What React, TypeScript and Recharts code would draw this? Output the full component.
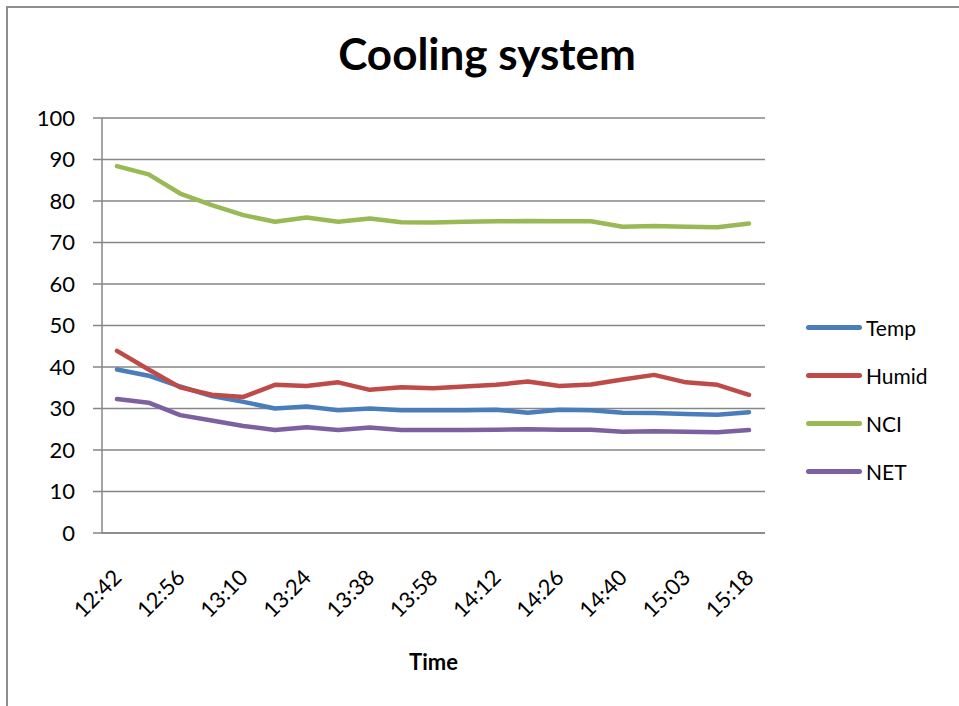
import React from "react";
import { LineChart, Line, XAxis, YAxis, CartesianGrid, Legend } from "recharts";

const times = [
  "12:42", "12:49", "12:56", "13:03", "13:10", "13:17", "13:24", "13:31", "13:38", "13:48",
  "13:58", "14:05", "14:12", "14:19", "14:26", "14:33", "14:40", "14:51", "15:03", "15:10", "15:18",
];

const temp = [
  39.4, 37.9, 35.3, 33.0, 31.6, 30.0, 30.5, 29.6, 30.0, 29.6,
  29.6, 29.6, 29.7, 29.0, 29.7, 29.6, 29.0, 28.9, 28.7, 28.5, 29.1,
];
const humid = [
  43.9, 39.4, 35.1, 33.3, 32.8, 35.7, 35.4, 36.3, 34.5, 35.1,
  34.9, 35.3, 35.7, 36.5, 35.4, 35.8, 37.0, 38.1, 36.3, 35.7, 33.3,
];
const nci = [
  88.4, 86.4, 81.8, 79.0, 76.6, 75.0, 76.0, 75.0, 75.8, 74.9,
  74.8, 75.0, 75.1, 75.2, 75.1, 75.1, 73.8, 74.0, 73.8, 73.7, 74.6,
];
const net = [
  32.3, 31.4, 28.4, 27.1, 25.8, 24.8, 25.5, 24.8, 25.4, 24.8,
  24.8, 24.8, 24.9, 25.0, 24.9, 24.9, 24.4, 24.5, 24.4, 24.3, 24.8,
];

const yTicks = [0, 10, 20, 30, 40, 50, 60, 70, 80, 90, 100];

const series = [
  { key: "Temp", color: "#4a7ebb" },
  { key: "Humid", color: "#be4b48" },
  { key: "NCI", color: "#98b954" },
  { key: "NET", color: "#7d60a0" },
];

const data = times.map((t, i) => ({
  time: t,
  Temp: temp[i],
  Humid: humid[i],
  NCI: nci[i],
  NET: net[i],
}));

const FONT = "Lato, 'Liberation Sans', sans-serif";

const XTick = (props: any) => {
  const { x, y, payload } = props;
  const tx = x + 6;
  const ty = y + 46;
  return (
    <text
      x={tx}
      y={ty}
      transform={`rotate(-45, ${tx}, ${ty})`}
      textAnchor="end"
      fontSize={22}
      fontFamily={FONT}
      fill="#000"
    >
      {payload.value}
    </text>
  );
};

const LegendBox = () => (
  <div style={{ fontFamily: FONT }}>
    {series.map((s) => (
      <div key={s.key} style={{ height: 48, display: "flex", alignItems: "center" }}>
        <div style={{ width: 56, height: 5, borderRadius: 3, background: s.color, marginRight: 4 }} />
        <span style={{ fontSize: 21, color: "#000" }}>{s.key}</span>
      </div>
    ))}
  </div>
);

export default function App() {
  return (
    <div style={{ position: "fixed", left: 0, top: 0, width: 959, height: 706, overflow: "hidden", background: "#fff" }}>
      <div
        style={{
          position: "absolute",
          left: 6,
          top: 6,
          width: 1000,
          height: 800,
          borderTop: "2px solid #8e8e8e",
          borderLeft: "2px solid #8e8e8e",
        }}
      />
      <div
        style={{
          position: "absolute",
          left: 7,
          width: 960,
          top: 27,
          textAlign: "center",
          fontFamily: FONT,
          fontWeight: 700,
          fontSize: 44,
          color: "#000",
        }}
      >
        Cooling system
      </div>
      <div style={{ position: "absolute", left: 0, top: 0 }}>
        <LineChart
          width={959}
          height={706}
          data={data}
          margin={{ top: 118, right: 44, left: 42, bottom: 28 }}
        >
          <CartesianGrid vertical={false} stroke="#868686" strokeWidth={1.5} />
          <XAxis
            dataKey="time"
            interval={1}
            tickLine={false}
            tickSize={0}
            tickMargin={0}
            height={145}
            padding={{ left: 15, right: 16 }}
            axisLine={{ stroke: "#868686", strokeWidth: 1.5 }}
            tick={<XTick />}
            label={{
              value: "Time",
              position: "insideBottom",
              offset: 8,
              fontSize: 22,
              fontWeight: 700,
              fontFamily: FONT,
              fill: "#000",
            }}
          />
          <YAxis
            domain={[0, 100]}
            ticks={yTicks}
            width={60}
            tickSize={9}
            tickMargin={18}
            axisLine={{ stroke: "#868686", strokeWidth: 1.5 }}
            tickLine={{ stroke: "#868686", strokeWidth: 1.5 }}
            tick={{ fontSize: 22, fontFamily: FONT, fill: "#000" }}
          />
          <Legend
            layout="vertical"
            align="right"
            verticalAlign="middle"
            width={150}
            wrapperStyle={{ left: 806, top: 303, right: "auto" }}
            content={<LegendBox />}
          />
          {series.map((s) => (
            <Line
              key={s.key}
              type="linear"
              dataKey={s.key}
              stroke={s.color}
              strokeWidth={4.5}
              strokeLinecap="round"
              strokeLinejoin="round"
              dot={false}
              activeDot={false}
              isAnimationActive={false}
            />
          ))}
        </LineChart>
      </div>
    </div>
  );
}
